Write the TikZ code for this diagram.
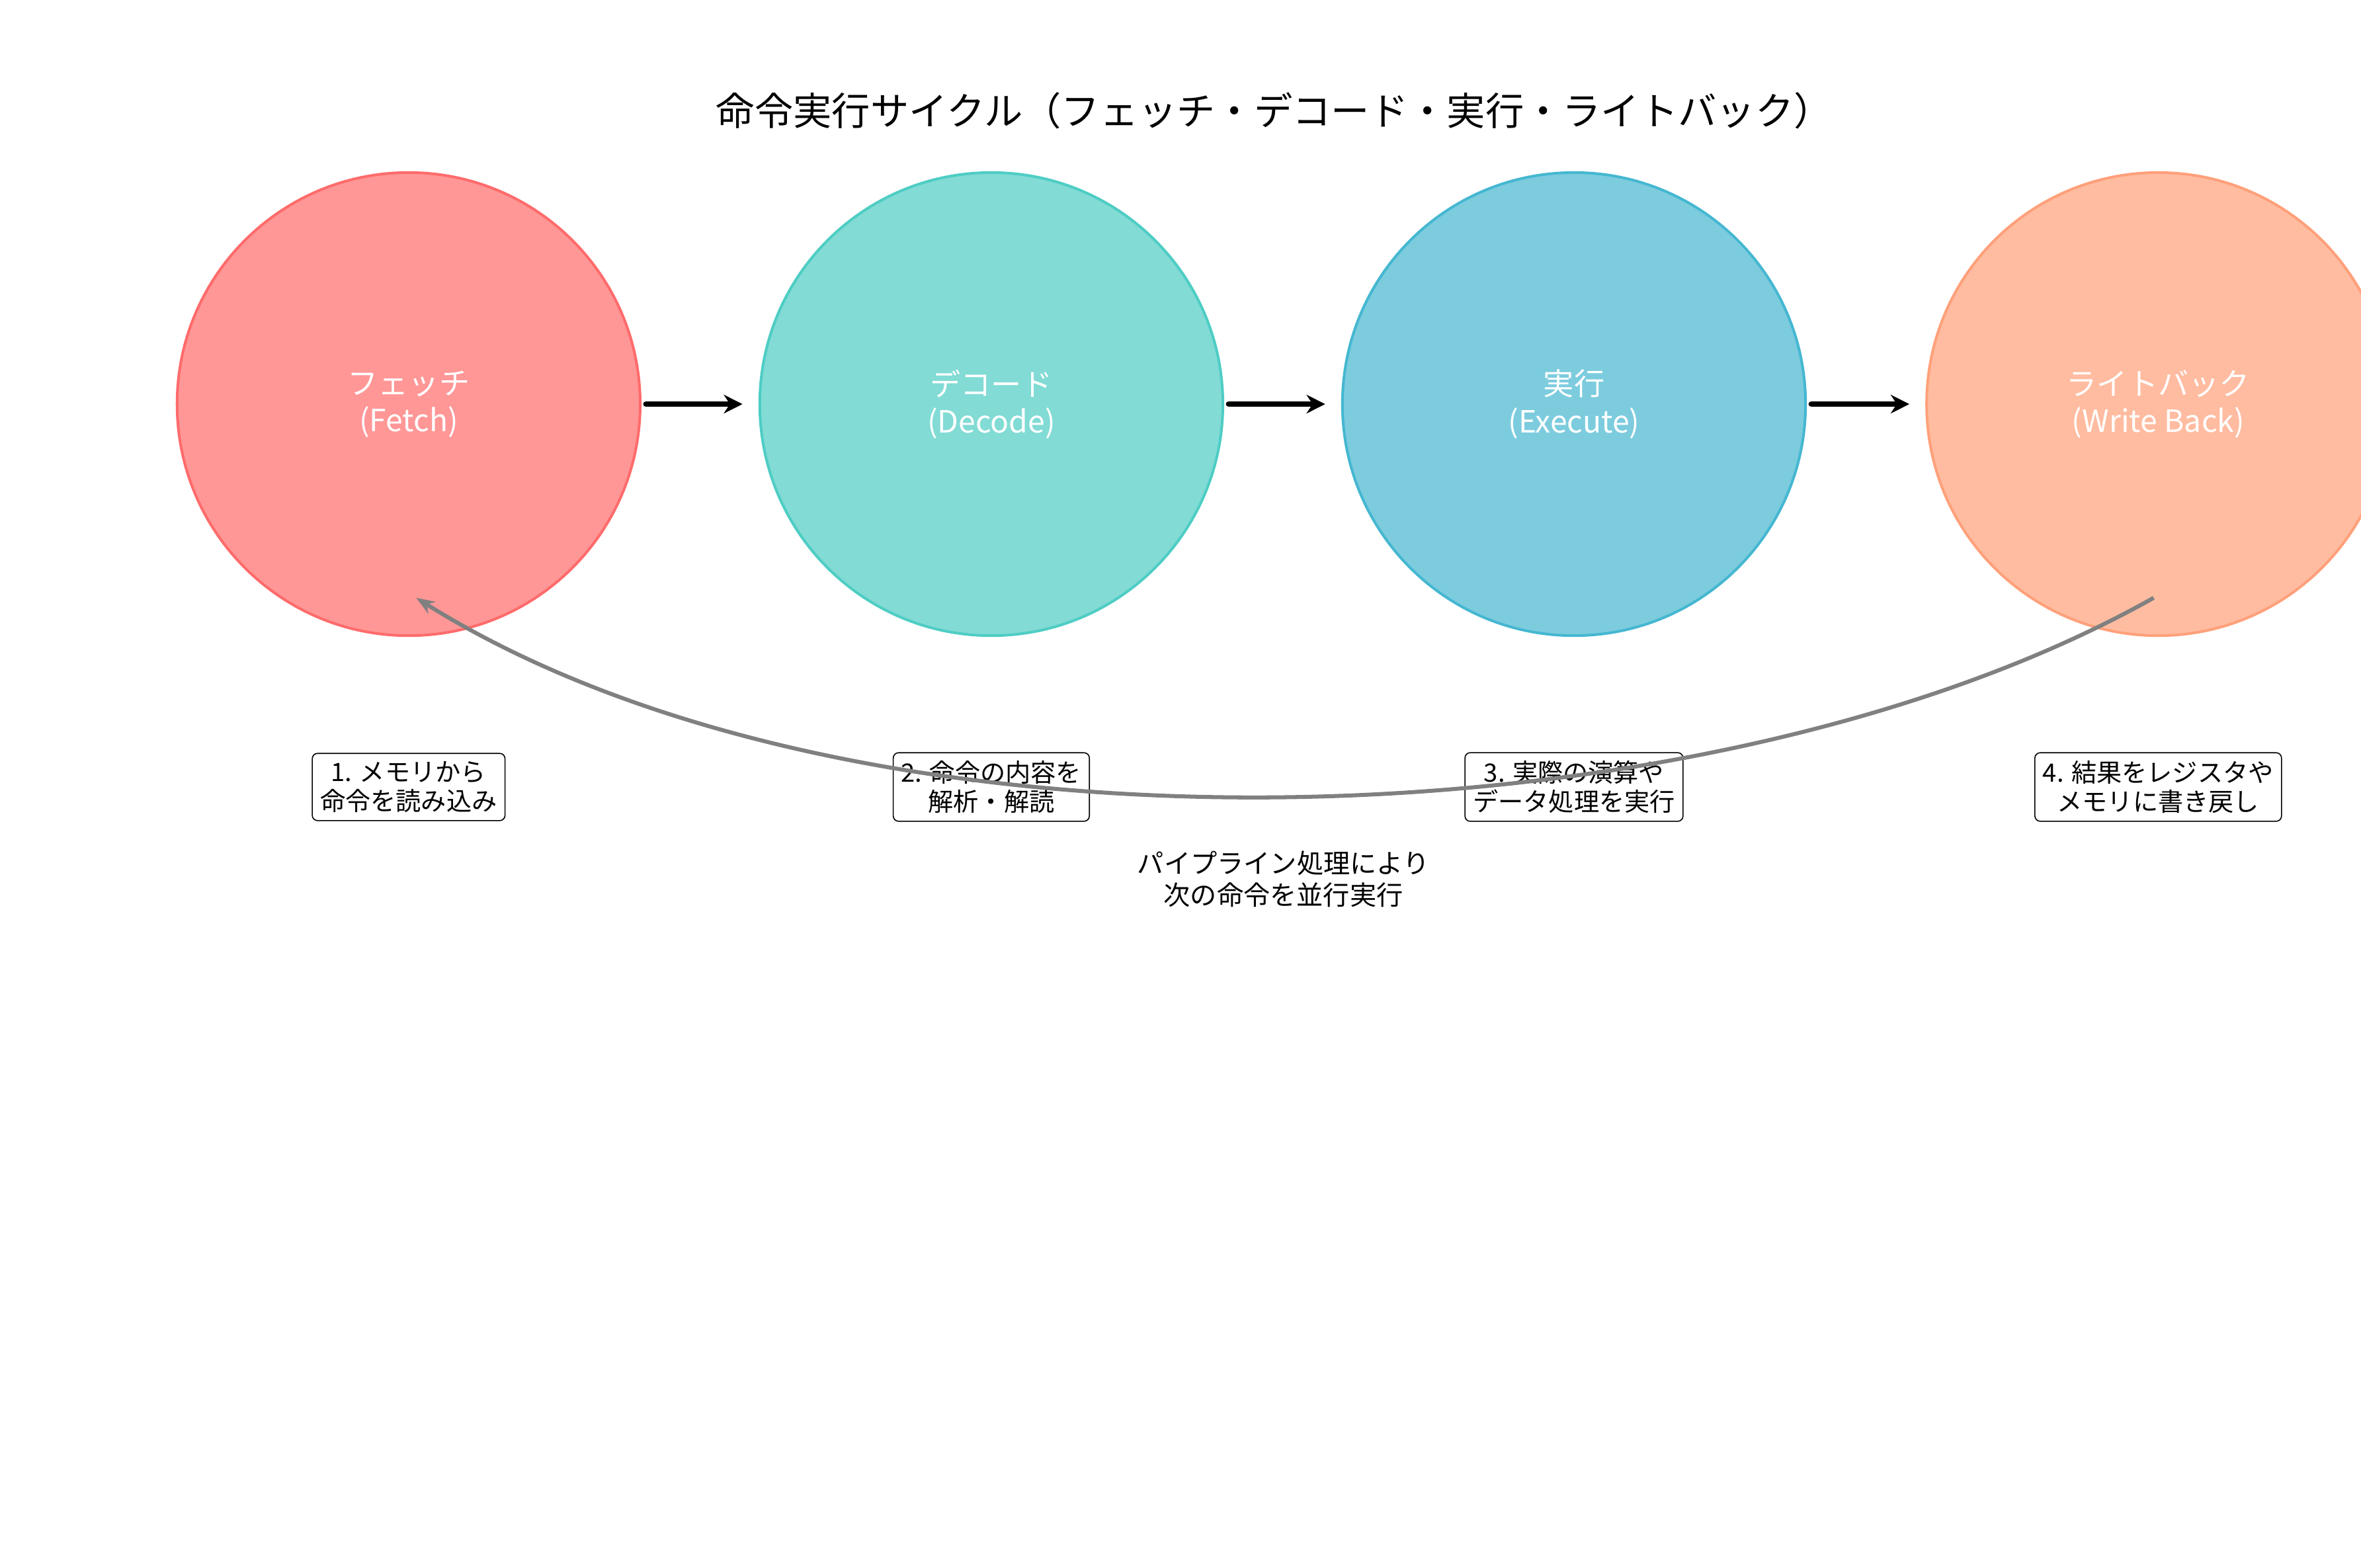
\documentclass[tikz,border=0pt]{standalone}
\usepackage{fontspec}
\setmainfont{Noto Sans CJK JP}
\usetikzlibrary{arrows.meta}
\begin{document}
\begin{tikzpicture}[x=0.02cm,y=-0.02cm,
  stage/.style={circle,minimum size=306*0.02cm,line width=1pt,fill opacity=0.7,text opacity=1,text=white,align=center,font=\fontsize{11.5}{14}\selectfont},
  note/.style={draw,rounded corners=2pt,fill=white,align=center,inner sep=3pt,font=\fontsize{9.5}{11}\selectfont},
  flow/.style={-{Stealth[length=7pt,width=7pt]},line width=2.2pt,line cap=round}]
\clip (0,0) rectangle (1560,1036);
\fill[white] (0,0) rectangle (1560,1036);
\node[font=\fontsize{14.5}{17}\selectfont] (title) at (842,73) {命令実行サイクル（フェッチ・デコード・実行・ライトバック）};
\definecolor{c1}{HTML}{FF6B6B}\definecolor{c2}{HTML}{4ECDC4}\definecolor{c3}{HTML}{45B7D1}\definecolor{c4}{HTML}{FFA07A}
\node[stage,fill=c1,draw=c1] (f) at (270,267) {フェッチ\\(Fetch)};
\node[stage,fill=c2,draw=c2] (d) at (655,267) {デコード\\(Decode)};
\node[stage,fill=c3,draw=c3] (e) at (1040,267) {実行\\(Execute)};
\node[stage,fill=c4,draw=c4] (w) at (1426,267) {ライトバック\\(Write Back)};
\draw[flow] (f.east)++(3,0) -- ([xshift=-6]d.west);
\draw[flow] (d.east)++(3,0) -- ([xshift=-6]e.west);
\draw[flow] (e.east)++(3,0) -- ([xshift=-6]w.west);
\node[note] (n1) at (270,520) {1. メモリから\\命令を読み込み};
\node[note] (n2) at (655,520) {2. 命令の内容を\\解析・解読};
\node[note] (n3) at (1040,520) {3. 実際の演算や\\データ処理を実行};
\node[note] (n4) at (1426,520) {4. 結果をレジスタや\\メモリに書き戻し};
\coordinate (a) at (1423,395);
\coordinate (b) at (275,395);
\draw[-{Stealth[length=7pt]},gray,line width=1.5pt] (a) .. controls (1130,560) and (570,580) .. (b);
\node[align=center,font=\fontsize{10}{12}\selectfont] (lbl) at (848,581) {パイプライン処理により\\次の命令を並行実行};
\end{tikzpicture}
\end{document}
